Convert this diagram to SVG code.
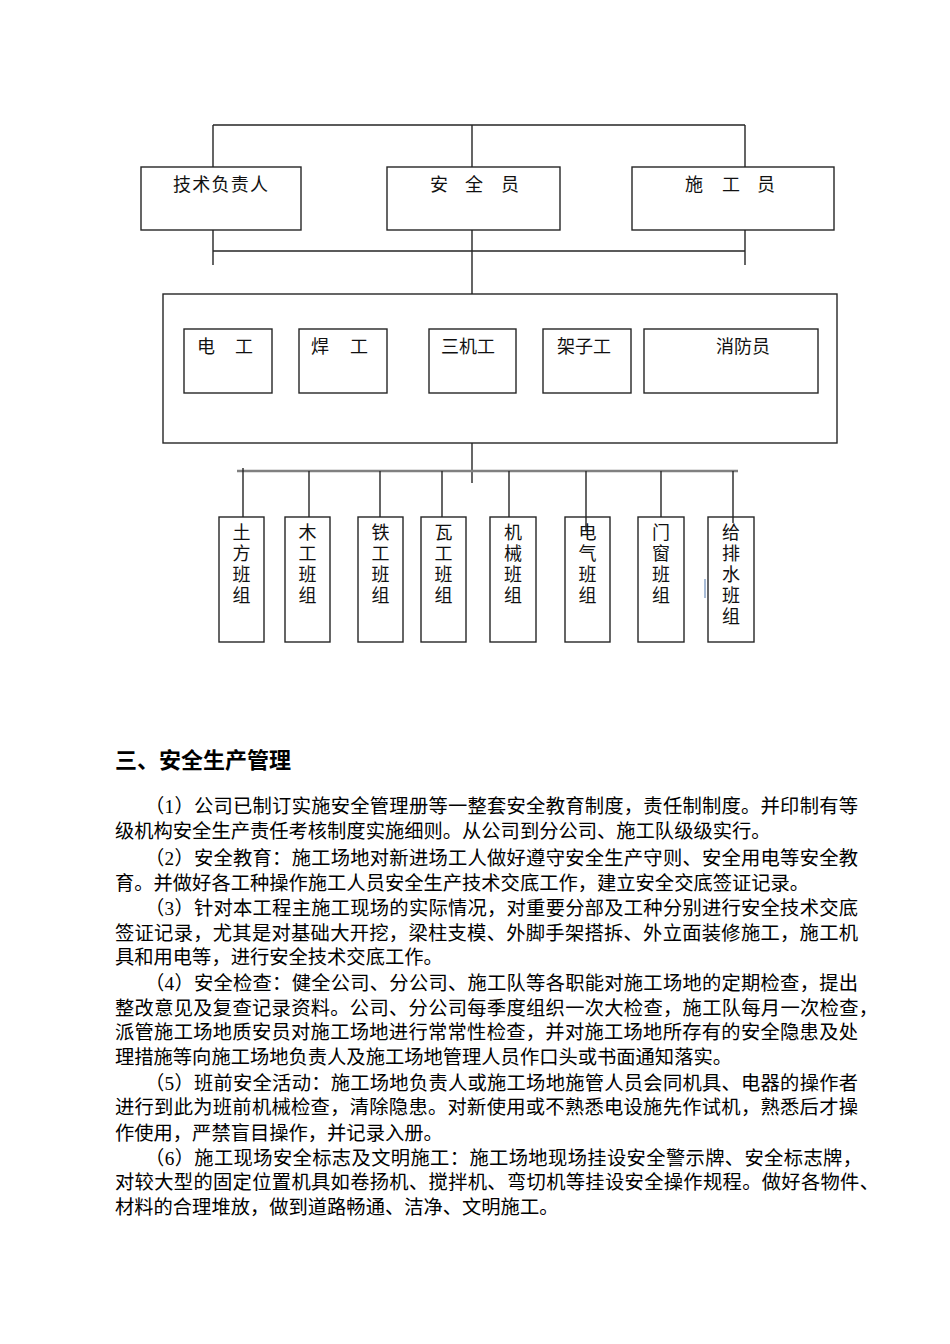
<svg xmlns="http://www.w3.org/2000/svg" width="950" height="1344" viewBox="0 0 950 1344">
<style>
.bg{fill:#ffffff}
.box{fill:#ffffff;stroke:#262626;stroke-width:1.4}
.ln{fill:none;stroke:#262626;stroke-width:1.4}
.bar{fill:none;stroke:#808080;stroke-width:2.5}
.lbl{font-family:"Noto Sans CJK SC","Noto Sans",sans-serif;font-size:18px;fill:#111}
.vl{font-family:"Noto Sans CJK SC","Noto Sans",sans-serif;font-size:18px;fill:#111;writing-mode:vertical-rl;letter-spacing:3px}
.h{font-family:"Noto Sans CJK SC","Noto Sans",sans-serif;font-size:22px;font-weight:bold;fill:#000}
.p{font-family:"Liberation Serif","Noto Sans CJK SC",serif;font-size:19.3px;fill:#000}
</style>
<rect class="bg" x="0" y="0" width="950" height="1344"/>

<g id="connectors">
  <path class="ln" d="M213 125 H745 M213 125 V167 M472 125 V167 M745 125 V167"/>
  <path class="ln" d="M213 217 V265 M745 217 V265 M472 217 V294 M213 251 H745"/>
  <path class="ln" d="M229 294 V329 M344 294 V329 M472 294 V329 M618 294 V329 M760 294 V329"/>
  <path class="ln" d="M472 408 V483"/>
  <path class="bar" d="M237 471 H738"/>
  <path class="ln" d="M243 468 V517 M309 471 V517 M380 471 V517 M442 471 V517 M509 471 V517 M586 471 V530 M661 471 V517 M733 471 V523"/>
</g>

<g id="big-frame"><rect class="box" x="163" y="294" width="674" height="149" fill="none"/></g>

<g id="node-jishu"><rect class="box" x="141" y="167" width="160" height="63"/><text class="lbl" x="173" y="191" textLength="95">技术负责人</text></g>
<g id="node-anquan"><rect class="box" x="387" y="167" width="173" height="63"/><text class="lbl"><tspan x="430" y="191">安</tspan><tspan x="465" y="191">全</tspan><tspan x="501" y="191">员</tspan></text></g>
<g id="node-shigong"><rect class="box" x="632" y="167" width="202" height="63"/><text class="lbl"><tspan x="685" y="191">施</tspan><tspan x="722" y="191">工</tspan><tspan x="757" y="191">员</tspan></text></g>

<g id="node-diangong"><rect class="box" x="184" y="329" width="88" height="64"/><text class="lbl"><tspan x="197" y="353">电</tspan><tspan x="235" y="353">工</tspan></text></g>
<g id="node-hangong"><rect class="box" x="299" y="329" width="88" height="64"/><text class="lbl"><tspan x="311" y="353">焊</tspan><tspan x="350" y="353">工</tspan></text></g>
<g id="node-sanjigong"><rect class="box" x="429" y="329" width="87" height="64"/><text class="lbl" x="441" y="353">三机工</text></g>
<g id="node-jiazigong"><rect class="box" x="543" y="329" width="88" height="64"/><text class="lbl" x="557" y="353">架子工</text></g>
<g id="node-xiaofang"><rect class="box" x="644" y="329" width="174" height="64"/><text class="lbl" x="716" y="353">消防员</text></g>

<g id="team-1"><rect class="box" x="219" y="517" width="45" height="125"/><text class="vl" x="241.5" y="523">土方班组</text></g>
<g id="team-2"><rect class="box" x="285" y="517" width="45" height="125"/><text class="vl" x="307.5" y="523">木工班组</text></g>
<g id="team-3"><rect class="box" x="358" y="517" width="45" height="125"/><text class="vl" x="380.5" y="523">铁工班组</text></g>
<g id="team-4"><rect class="box" x="421" y="517" width="45" height="125"/><text class="vl" x="443.5" y="523">瓦工班组</text></g>
<g id="team-5"><rect class="box" x="490" y="517" width="46" height="125"/><text class="vl" x="513" y="523">机械班组</text></g>
<g id="team-6"><rect class="box" x="565" y="517" width="45" height="125"/><text class="vl" x="587.5" y="523">电气班组</text></g>
<g id="team-7"><rect class="box" x="638" y="517" width="46" height="125"/><text class="vl" x="661" y="523">门窗班组</text></g>
<g id="team-8"><rect class="box" x="708" y="517" width="46" height="125"/><text class="vl" x="731" y="523">给排水班组</text></g>
<g id="connector-overlay"><path class="ln" d="M586 517 V530 M733 517 V523"/><path d="M705 579 V598" stroke="#a9bcd6" stroke-width="2"/></g>

<g id="section-text">
<text class="h" x="115" y="768">三、安全生产管理</text>
<text class="p" x="145" y="813" textLength="713">（1）公司已制订实施安全管理册等一整套安全教育制度，责任制制度。并印制有等</text>
<text class="p" x="115" y="838">级机构安全生产责任考核制度实施细则。从公司到分公司、施工队级级实行。</text>
<text class="p" x="145" y="865" textLength="713">（2）安全教育：施工场地对新进场工人做好遵守安全生产守则、安全用电等安全教</text>
<text class="p" x="115" y="890">育。并做好各工种操作施工人员安全生产技术交底工作，建立安全交底签证记录。</text>
<text class="p" x="145" y="915" textLength="713">（3）针对本工程主施工现场的实际情况，对重要分部及工种分别进行安全技术交底</text>
<text class="p" x="115" y="940" textLength="743">签证记录，尤其是对基础大开挖，梁柱支模、外脚手架搭拆、外立面装修施工，施工机</text>
<text class="p" x="115" y="964">具和用电等，进行安全技术交底工作。</text>
<text class="p" x="145" y="990" textLength="713">（4）安全检查：健全公司、分公司、施工队等各职能对施工场地的定期检查，提出</text>
<text class="p" x="115" y="1015" textLength="763">整改意见及复查记录资料。公司、分公司每季度组织一次大检查，施工队每月一次检查，</text>
<text class="p" x="115" y="1039" textLength="743">派管施工场地质安员对施工场地进行常常性检查，并对施工场地所存有的安全隐患及处</text>
<text class="p" x="115" y="1064">理措施等向施工场地负责人及施工场地管理人员作口头或书面通知落实。</text>
<text class="p" x="145" y="1090" textLength="713">（5）班前安全活动：施工场地负责人或施工场地施管人员会同机具、电器的操作者</text>
<text class="p" x="115" y="1114" textLength="743">进行到此为班前机械检查，清除隐患。对新使用或不熟悉电设施先作试机，熟悉后才操</text>
<text class="p" x="115" y="1140">作使用，严禁盲目操作，并记录入册。</text>
<text class="p" x="145" y="1165" textLength="717">（6）施工现场安全标志及文明施工：施工场地现场挂设安全警示牌、安全标志牌，</text>
<text class="p" x="115" y="1189" textLength="764">对较大型的固定位置机具如卷扬机、搅拌机、弯切机等挂设安全操作规程。做好各物件、</text>
<text class="p" x="115" y="1214">材料的合理堆放，做到道路畅通、洁净、文明施工。</text>
</g>
</svg>
